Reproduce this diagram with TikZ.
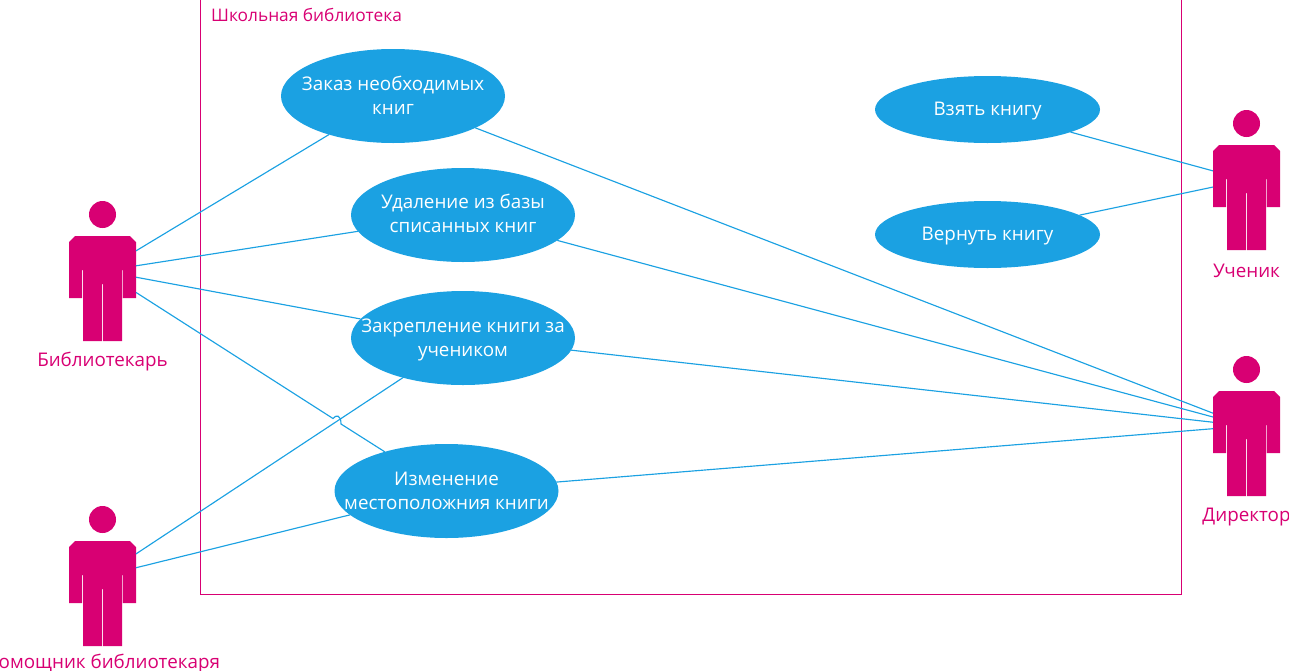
\documentclass[tikz,border=0pt]{standalone}
\usepackage{fontspec}
\setmainfont{Open Sans}
\definecolor{rosa}{HTML}{D80073}
\definecolor{sky}{HTML}{1BA1E2}
\tikzset{
  usecase/.style = {ellipse, fill=sky, inner sep=0pt, outer sep=0pt,
    minimum width=224pt, minimum height=94pt},
  shortcase/.style = {usecase, minimum width=225pt, minimum height=67pt},
  usetext/.style = {align=center, text=white, inner sep=0pt,
    font=\fontsize{18.8}{24}\selectfont},
  actorbox/.style = {rectangle, inner sep=0pt, outer sep=0pt,
    minimum width=67pt, minimum height=140pt},
  actortext/.style = {text=rosa, inner sep=0pt,
    font=\fontsize{18.8}{24}\selectfont},
  link/.style = {draw=sky, line width=1.15pt},
  actor/.pic = {
    \node[actorbox] (-box) at (0,0) {};
    \fill[rosa] (0,-56.5) circle (13.5);
    \fill[rosa] (-27.5,-35) -- (27.5,-35) -- (33.5,-29) -- (33.5,27) -- (20.3,27)
      -- (20.3,-1) -- (19.5,-1) -- (19.5,70) -- (.5,70) -- (.5,13) -- (-.5,13)
      -- (-.5,70) -- (-19.5,70) -- (-19.5,-1) -- (-20.3,-1) -- (-20.3,27)
      -- (-33.5,27) -- (-33.5,-29) -- cycle;
    \node[actortext] (-text) at (0,91) {#1};
  }
}
\usetikzlibrary{shapes.geometric}
\begin{document}
\begin{tikzpicture}[x=1pt, y=-1pt]
\useasboundingbox (0,0) rectangle (1289,670);
\node[draw=rosa, line width=1pt, inner sep=0pt, minimum width=981pt,
  minimum height=604.5pt] (school) at (691,292.25) {};
\node[text=rosa, anchor=west, inner sep=0pt, font=\fontsize{17.3}{20}\selectfont]
  (schooltext) at (211,15) {Школьная библиотека};

\node[usecase, label={[usetext, yshift=1pt]center:Заказ необходимых\\книг}] (order) at (393,96) {};
\node[usecase, label={[usetext, yshift=2pt]center:Удаление из базы\\списанных книг}] (remove) at (463,215) {};
\node[usecase, label={[usetext, yshift=-2pt]center:Закрепление книги за\\учеником}] (assign) at (463,338) {};
\node[usecase, label={[usetext]center:Изменение\\местоположния книги}] (move) at (446.5,491) {};
\node[shortcase, label={[usetext, yshift=-2pt]center:Взять книгу}] (take) at (987.5,109.5) {};
\node[shortcase, label={[usetext, yshift=-2pt]center:Вернуть книгу}] (back) at (987.5,234.5) {};

\pic (libr) at (102.5,271) {actor=Библиотекарь};
\pic[actortext/.append style={yshift=3pt}] (helper) at (102.5,576) {actor=Помощник библиотекаря};
\pic (pupil) at (1246.5,180) {actor=Ученик};
\pic (head) at (1246.5,426) {actor=Директор};

\coordinate (jumpa) at (333,418.5);
\coordinate (jumpb) at (341,424);

\draw[link] (libr-box) -- (order);
\draw[link] (libr-box) -- (remove);
\draw[link] (libr-box) -- (assign);
\draw[link] (libr-box) -- (jumpa) .. controls (336,414.5) and (341,414.5) .. (jumpb) -- (move);
\draw[link] (helper-box) -- (assign);
\draw[link] (helper-box) -- (move);
\draw[link] (pupil-box) -- (take);
\draw[link] (pupil-box) -- (back);
\draw[link] (head-box) -- (order);
\draw[link] (head-box) -- (remove);
\draw[link] (head-box) -- (assign);
\draw[link] (head-box) -- (move);
\end{tikzpicture}
\end{document}
